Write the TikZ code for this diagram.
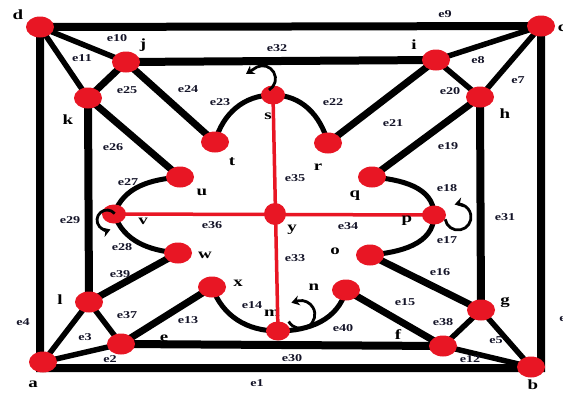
\documentclass[tikz,border=0pt]{standalone}
\usepackage{fontspec}
\setmainfont{Liberation Serif}
\newfontfamily\stretchfont[FakeStretch=1.35]{Liberation Serif}
\usetikzlibrary{shapes.geometric,arrows.meta}
\pgfdeclarelayer{bglayer}
\pgfdeclarelayer{edgelayer}
\pgfsetlayers{bglayer,edgelayer,main}
\definecolor{nodered}{RGB}{232,22,36}
\definecolor{labink}{RGB}{20,20,40}
\begin{document}
\begin{tikzpicture}[x=1pt,y=1pt,
  vtx/.style={ellipse, fill=nodered, minimum width=28pt, minimum height=21pt, inner sep=0pt},
  svtx/.style={vtx, minimum width=24pt, minimum height=19pt},
  hub/.style={circle, fill=nodered, minimum size=22pt, inner sep=0pt},
  frameline/.style={line width=8pt, line join=miter},
  spoke/.style={line width=7pt},
  cornerline/.style={line width=5.5pt},
  curved/.style={line width=5pt},
  redline/.style={line width=3.5pt, draw=nodered},
  curl/.style={line width=2.8pt, line join=round, -{Stealth[length=8pt,width=10pt]}},
  elab/.style={font=\stretchfont\bfseries\fontsize{10.5}{12}\selectfont, text=labink, inner sep=0pt},
  vlab/.style={font=\stretchfont\bfseries\fontsize{14}{16}\selectfont, inner sep=0pt},
]
\begin{pgfonlayer}{bglayer}
\fill[white] (0,0) rectangle (563,-394);
\end{pgfonlayer}
\useasboundingbox (0,0) rectangle (563,-394);

% vertices
\node[vtx] (d) at (40,-27) {};
\node[vtx] (c) at (541,-26) {};
\node[vtx] (a) at (43,-362) {};
\node[vtx] (b) at (531,-367) {};
\node[vtx] (j) at (126,-62) {};
\node[vtx] (i) at (436,-60) {};
\node[vtx] (k) at (88,-98) {};
\node[vtx] (h) at (480,-97) {};
\node[vtx] (l) at (89,-302) {};
\node[vtx] (e) at (121,-344) {};
\node[vtx] (g) at (481,-310) {};
\node[vtx] (f) at (443,-346) {};
\node[svtx] (s) at (273,-95) {};
\node[vtx] (t) at (215,-142) {};
\node[vtx] (r) at (328,-143) {};
\node[vtx] (u) at (180,-177) {};
\node[vtx] (q) at (372,-177) {};
\node[svtx] (v) at (114,-214) {};
\node[svtx] (p) at (434,-215) {};
\node[hub] (y) at (275,-214) {};
\node[vtx] (w) at (178,-253) {};
\node[vtx] (o) at (370,-255) {};
\node[vtx] (x) at (212,-287) {};
\node[vtx] (n) at (346,-290) {};
\node[svtx] (m) at (278,-331) {};

\begin{pgfonlayer}{edgelayer}
\coordinate (fa) at (40,-368);
\coordinate (fb) at (541,-368);
\draw[frameline] (d.center) -- (c.center) -- (fb) -- (fa) -- cycle;
\draw[frameline] (j.center) -- (i.center);
\draw[frameline] (h.center) -- (g.center);
\draw[frameline] (e.center) -- (f.center);
\draw[frameline] (k.center) -- (l.center);
% corner triangles
\draw[cornerline] (d.center) -- (j.center);
\draw[cornerline] (d.center) -- (k.center);
\draw[spoke] (j.center) -- (k.center);
\draw[cornerline] (c.center) -- (i.center);
\draw[cornerline] (c.center) -- (h.center);
\draw[cornerline] (i.center) -- (h.center);
\draw[cornerline] (a.center) -- (l.center);
\draw[cornerline] (a.center) -- (e.center);
\draw[cornerline] (l.center) -- (e.center);
\draw[cornerline] (b.center) -- (g.center);
\draw[cornerline] (b.center) -- (f.center);
\draw[cornerline] (f.center) -- (g.center);
% spokes
\draw[spoke] (j.center) -- (t.center);
\draw[spoke] (k.center) -- (u.center);
\draw[spoke] (i.center) -- (r.center);
\draw[spoke] (h.center) -- (q.center);
\draw[spoke] (l.center) -- (w.center);
\draw[spoke] (e.center) -- (x.center);
\draw[spoke] (g.center) -- (o.center);
\draw[spoke] (f.center) -- (n.center);
% curves
\draw[curved] (t.center) to[out=75,in=180] (s.center);
\draw[curved] (s.center) to[out=0,in=105] (r.center);
\draw[curved] (u.center) to[out=185,in=70] (v.center);
\draw[curved] (v.center) to[out=-70,in=175] (w.center);
\draw[curved] (q.center) to[out=-5,in=90] (p.center);
\draw[curved] (p.center) to[out=-90,in=5] (o.center);
\draw[curved] (x.center) to[out=-70,in=180] (m.center);
\draw[curved] (m.center) to[out=0,in=-105] (n.center);
% label under the red line
\node[vlab] (Lm) at (272,-313) {m};
% red cross
\draw[redline] (s.center) -- (m.center);
\draw[redline] (v.center) -- (p.center);
\end{pgfonlayer}

% curl arrows
\draw[curl] (s.center) ++(-4,5) arc[start angle=-60, end angle=115, radius=13] -- ++(-11,-7);
\draw[curl] (v.center) ++(0.7,0.4) arc[start angle=40, end angle=290, radius=10];
\draw[curl] (p.center) ++(11.2,-4.3) arc[start angle=190, end angle=465, radius=13];
\draw[curl] (m.center) ++(10.7,9.5) arc[start angle=-150, end angle=100, radius=14] -- ++(-7,-2);

% vertex labels
\node[vlab] (Ld) at (18,-15) {d};
\node[vlab] (Lc) at (562,-28) {c};
\node[vlab] (La) at (33,-384) {a};
\node[vlab] (Lb) at (533,-385) {b};
\node[vlab] (Lj) at (143,-45) {j};
\node[vlab] (Li) at (414,-45) {i};
\node[vlab] (Lk) at (68,-120) {k};
\node[vlab] (Lh) at (505,-114) {h};
\node[vlab] (Ll) at (60,-300) {l};
\node[vlab] (Le) at (164,-338) {e};
\node[vlab] (Lf) at (398,-335) {f};
\node[vlab] (Lg) at (505,-302) {g};
\node[vlab] (Ls) at (268,-116) {s};
\node[vlab] (Lt) at (232,-162) {t};
\node[vlab] (Lr) at (318,-167) {r};
\node[vlab] (Lu) at (202,-192) {u};
\node[vlab] (Lq) at (355,-196) {q};
\node[vlab] (Lv) at (143,-221) {v};
\node[vlab] (Lp) at (407,-221) {p};
\node[vlab] (Ly) at (292,-230) {y};
\node[vlab] (Lw) at (205,-255) {w};
\node[vlab] (Lo) at (335,-251) {o};
\node[vlab] (Lx) at (238,-283) {x};
\node[vlab] (Ln) at (314,-287) {n};

% edge labels
\node[elab] (L1) at (257,-383) {e1};
\node[elab] (L2) at (110,-359) {e2};
\node[elab] (L3) at (85,-337) {e3};
\node[elab] (L4) at (23,-322) {e4};
\node[elab] (L5) at (496,-340) {e5};
\node[elab] (L6) at (566,-318) {e6};
\node[elab] (L7) at (518,-80) {e7};
\node[elab] (L8) at (478,-60) {e8};
\node[elab] (L9) at (445,-14) {e9};
\node[elab] (L10) at (117,-38) {e10};
\node[elab] (L11) at (82,-58) {e11};
\node[elab] (L12) at (470,-359) {e12};
\node[elab] (L13) at (188,-320) {e13};
\node[elab] (L14) at (252,-305) {e14};
\node[elab] (L15) at (405,-302) {e15};
\node[elab] (L16) at (440,-272) {e16};
\node[elab] (L17) at (447,-240) {e17};
\node[elab] (L18) at (447,-188) {e18};
\node[elab] (L19) at (448,-146) {e19};
\node[elab] (L20) at (450,-91) {e20};
\node[elab] (L21) at (393,-123) {e21};
\node[elab] (L22) at (333,-102) {e22};
\node[elab] (L23) at (220,-102) {e23};
\node[elab] (L24) at (188,-89) {e24};
\node[elab] (L25) at (127,-90) {e25};
\node[elab] (L26) at (113,-147) {e26};
\node[elab] (L27) at (128,-182) {e27};
\node[elab] (L28) at (122,-247) {e28};
\node[elab] (L29) at (70,-220) {e29};
\node[elab] (L30) at (292,-358) {e30};
\node[elab] (L31) at (505,-217) {e31};
\node[elab] (L32) at (277,-48) {e32};
\node[elab] (L33) at (295,-258) {e33};
\node[elab] (L34) at (348,-226) {e34};
\node[elab] (L35) at (295,-178) {e35};
\node[elab] (L36) at (212,-225) {e36};
\node[elab] (L37) at (127,-315) {e37};
\node[elab] (L38) at (443,-322) {e38};
\node[elab] (L39) at (120,-274) {e39};
\node[elab] (L40) at (343,-328) {e40};
\end{tikzpicture}
\end{document}
